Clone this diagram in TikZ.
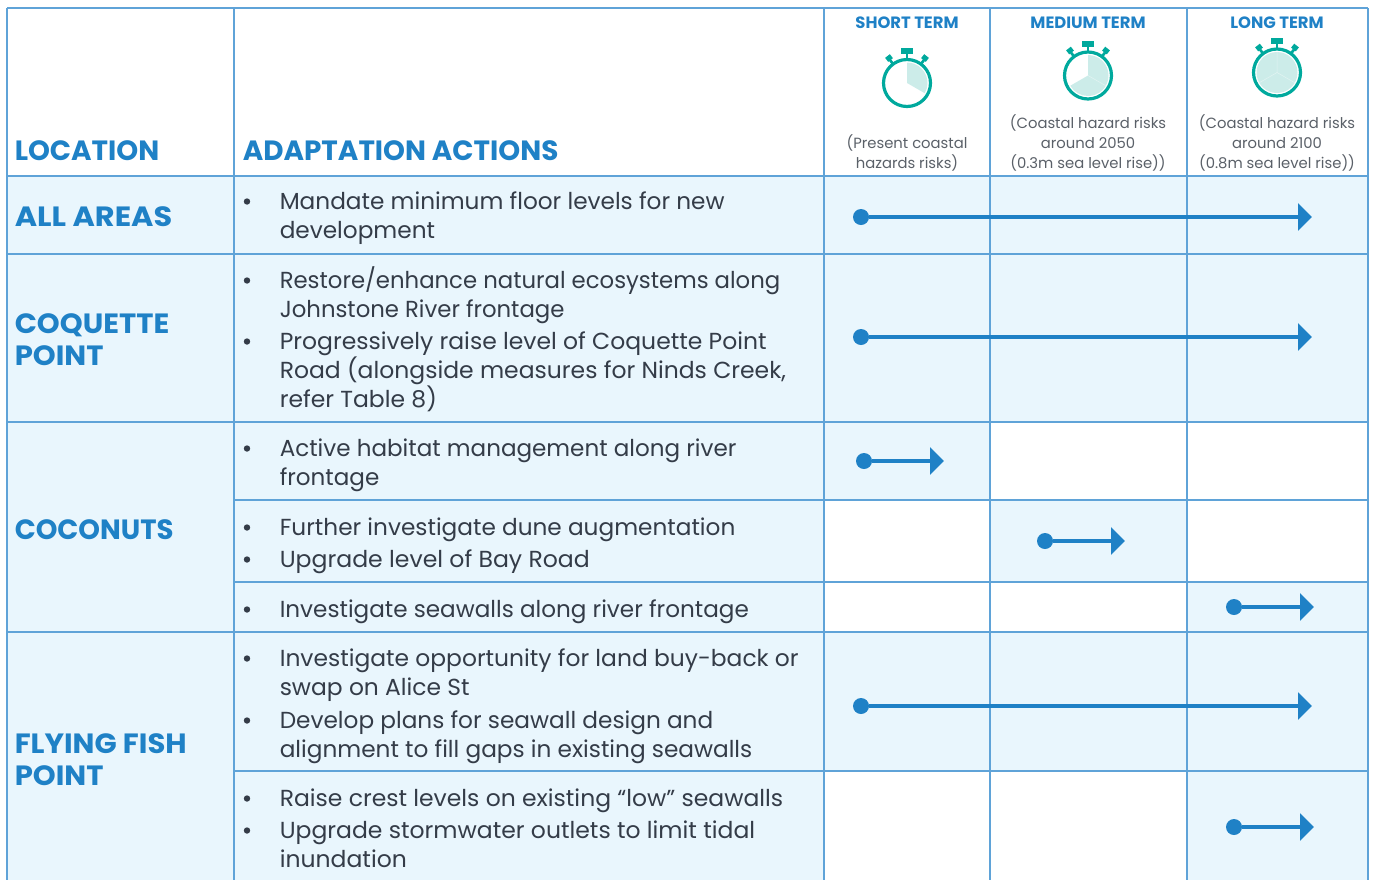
\documentclass[tikz,border=0pt]{standalone}
\usepackage{fontspec}
\setmainfont{Poppins}
\usetikzlibrary{arrows.meta}
\definecolor{gridblue}{HTML}{5FA3D8}
\definecolor{headblue}{HTML}{1F81C6}
\definecolor{paleblue}{HTML}{E9F6FD}
\definecolor{bodyink}{HTML}{343C48}
\definecolor{noteink}{HTML}{5A6068}
\definecolor{teal}{HTML}{00A99D}
\definecolor{paleteal}{HTML}{CCECE9}
\definecolor{wedgeline}{HTML}{E2F4F2}
\tikzset{
  x=0.75pt,y=0.75pt,
  cellfill/.style={fill=paleblue,draw=none},
  gridline/.style={draw=gridblue,line width=1.5pt},
  heading/.style={anchor=base west,inner sep=0,text=headblue,font=\fontsize{20.9}{24}\selectfont\bfseries},
  termhead/.style={anchor=base,inner sep=0,text=headblue,font=\fontsize{12.3}{14}\selectfont\bfseries},
  note/.style={anchor=base,inner sep=0,align=center,text=noteink,font=\fontsize{11.1}{15}\selectfont},
  action/.style={anchor=base west,inner sep=0,align=left,text=bodyink,font=\fontsize{17.4}{21.5}\selectfont},
  bulletmark/.style={circle,fill=bodyink,inner sep=0,minimum size=4.8pt},
  startdot/.style={circle,fill=headblue,inner sep=0,minimum size=12pt},
  flow/.style={draw=headblue,line width=3.4pt,-{Triangle[length=10.5pt,width=20pt]}},
  pics/watch/.style={code={
    \fill[paleteal] (0,0) -- (0,20.5) arc[start angle=90,end angle=#1,radius=20.5] -- cycle;
    \draw[teal,line width=2.4pt] (0,0) circle[radius=23.5];
    \draw[teal,line width=2pt] (0,24) -- (0,30);
    \fill[teal] (-6,29) rectangle (6,35);
    \draw[teal,line width=2pt] (-14,19) -- (-17,23);
    \draw[teal,line width=2pt] (14,19) -- (17,23);
    \fill[teal,rotate around={38:(-18,25)}] (-21,22.5) rectangle (-15,27.5);
    \fill[teal,rotate around={-38:(18,25)}] (15,22.5) rectangle (21,27.5);
  }},
  wedge/.style={draw=wedgeline,line width=0.4pt},
}
\begin{document}
\begin{tikzpicture}
\useasboundingbox (0,0) rectangle (1373,-879);
\clip (0,0) rectangle (1373,-879);
% fills
\fill[cellfill] (7,-176) rectangle (1368,-422);
\fill[cellfill] (7,-422) rectangle (824,-885);
\fill[cellfill] (824,-422) rectangle (990,-500);
\fill[cellfill] (990,-500) rectangle (1187,-582);
\fill[cellfill] (1187,-582) rectangle (1368,-632);
\fill[cellfill] (824,-632) rectangle (1368,-771);
\fill[cellfill] (1187,-771) rectangle (1368,-885);
% grid
\draw[gridline] (7,-8) -- (1368,-8);
\draw[gridline] (7,-176) -- (1368,-176);
\draw[gridline] (7,-254) -- (1368,-254);
\draw[gridline] (7,-422) -- (1368,-422);
\draw[gridline] (234,-500) -- (1368,-500);
\draw[gridline] (234,-582) -- (1368,-582);
\draw[gridline] (7,-632) -- (1368,-632);
\draw[gridline] (234,-771) -- (1368,-771);
\foreach \cx in {7,234,824,990,1187,1368} \draw[gridline] (\cx,-8) -- (\cx,-885);
% headers
\node[heading] (hloc) at (14.5,-160.5) {LOCATION};
\node[heading] (hact) at (242.5,-160.5) {ADAPTATION ACTIONS};
\node[termhead] (hs) at (907,-28.5) {SHORT TERM};
\node[termhead] (hm) at (1088,-28.5) {MEDIUM TERM};
\node[termhead] (hl) at (1277,-28.5) {LONG TERM};
\pic at (907,-83) {watch=-30};
\pic at (1088,-75.5) {watch=-150};
\pic at (1277,-72.5) {watch=-270};
\draw[wedge] (1088,-75.5) -- +(-30:20.5);
\draw[wedge] (1277,-72.5) -- +(90:20.5) (1277,-72.5) -- +(-30:20.5) (1277,-72.5) -- +(-150:20.5);
\node[note] (ns) at (907,-168) {(Present coastal\\hazards risks)};
\node[note] (nm) at (1088,-168) {(Coastal hazard risks\\around 2050\\(0.3m sea level rise))};
\node[note] (nl) at (1277,-168) {(Coastal hazard risks\\around 2100\\(0.8m sea level rise))};
% locations
\node[heading,xscale=1.09] (l1) at (14.5,-226) {ALL AREAS};
\node[heading,xscale=1.045,align=left] (l2) at (14.5,-365) {COQUETTE\\POINT};
\node[heading,xscale=0.99] (l3) at (14.5,-539) {COCONUTS};
\node[heading,xscale=1.045,align=left] (l4) at (14.5,-785) {FLYING FISH\\POINT};
% actions
\foreach \by in {201.5,280.5,341.5,448.5,527.5,559.5,609.5,658.5,720.5,798.5,830.5}
  \node[bulletmark] (b\by) at (247,-\by) {};
\node[action] (a1) at (279.5,-238) {Mandate minimum floor levels for new\\development};
\node[action,xscale=0.982] (a2) at (279.5,-317) {Restore/enhance natural ecosystems along\\Johnstone River frontage};
\node[action,xscale=1.012] (a3) at (279.5,-407) {Progressively raise level of Coquette Point\\Road (alongside measures for Ninds Creek,\\refer Table 8)};
\node[action,xscale=0.994] (a4) at (279.5,-485) {Active habitat management along river\\frontage};
\node[action] (a5) at (279.5,-535) {Further investigate dune augmentation};
\node[action,xscale=1.016] (a6) at (279.5,-567) {Upgrade level of Bay Road};
\node[action,xscale=0.996] (a7) at (279.5,-617) {Investigate seawalls along river frontage};
\node[action,xscale=1.008] (a8) at (279.5,-695) {Investigate opportunity for land buy-back or\\swap on Alice St};
\node[action] (a9) at (279.5,-757) {Develop plans for seawall design and\\alignment to fill gaps in existing seawalls};
\node[action,xscale=1.012] (a10) at (279.5,-806) {Raise crest levels on existing “low” seawalls};
\node[action,xscale=1.013] (a11) at (279.5,-867) {Upgrade stormwater outlets to limit tidal\\inundation};
% timeline arrows
\foreach \n/\sx/\ex/\ay in {1/861/1312/217,2/861/1312/337,3/864/944/461,4/1045/1125/541,5/1234/1314/607,6/861/1312/706,7/1234/1314/827}{
  \node[startdot] (d\n) at (\sx,-\ay) {};
  \coordinate (e\n) at (\ex,-\ay);
  \draw[flow] (d\n) -- (e\n);
}
\end{tikzpicture}
\end{document}
